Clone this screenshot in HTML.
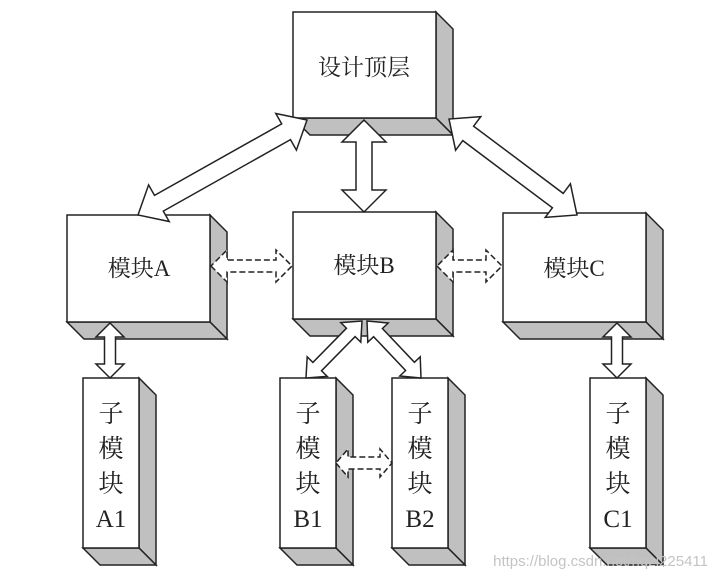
<!DOCTYPE html>
<html><head><meta charset="utf-8"><style>
html,body{margin:0;padding:0;background:#fff;}
svg{display:block;}
text{font-family:"Liberation Serif","Noto Serif CJK SC",serif;fill:#222;}
text.wm{font-family:"Liberation Sans",sans-serif;fill:#c4c4c4;}
</style></head><body>
<svg id="s" width="719" height="578" viewBox="0 0 719 578" xmlns="http://www.w3.org/2000/svg">
<g id="boxes" stroke="#222" stroke-width="1.5" stroke-linejoin="miter"></g>
<g id="arrows" fill="#fff" stroke="#222" stroke-width="1.5" stroke-linejoin="miter"></g>
<g font-size="23">
<text x="364" y="75" text-anchor="middle">设计顶层</text>
<text x="139" y="276" text-anchor="middle">模块A</text>
<text x="364" y="273" text-anchor="middle">模块B</text>
<text x="574" y="276" text-anchor="middle">模块C</text>
</g>
<g font-size="25" text-anchor="middle" id="sub"></g>
<text class="wm" x="708" y="566" font-size="15" text-anchor="end">https://blog.csdn.net/hqzl225411</text>
</svg>
<script>
var NS="http://www.w3.org/2000/svg";
function el(p,t,a){var e=document.createElementNS(NS,t);for(var k in a)e.setAttribute(k,a[k]);p.appendChild(e);return e;}
var B=document.getElementById('boxes'),A=document.getElementById('arrows'),S=document.getElementById('sub');
function box(x1,y1,x2,y2,d){
 el(B,'polygon',{points:[x2,y1,x2+d,y1+d,x2+d,y2+d,x2,y2].join(' '),fill:'#c0c0c0'});
 el(B,'polygon',{points:[x1,y2,x2,y2,x2+d,y2+d,x1+d,y2+d].join(' '),fill:'#c0c0c0'});
 el(B,'rect',{x:x1,y:y1,width:x2-x1,height:y2-y1,fill:'#fff'});
}
box(293,12,436,118,17);
box(67,215,210,322,17);
box(293,212,436,319,17);
box(503,213,646,322,17);
[[83,'A1'],[280,'B1'],[392,'B2'],[590,'C1']].forEach(function(s){
 box(s[0],378,s[0]+56,548,17);
 var cx=s[0]+28;
 ['子','模','块',s[1]].forEach(function(c,i){var t=el(S,'text',{x:cx,y:422+i*35});t.textContent=c;});
});
function arrow(x1,y1,x2,y2,w,hw,hl,dash){
 var dx=x2-x1,dy=y2-y1,L=Math.hypot(dx,dy),ux=dx/L,uy=dy/L,nx=-uy,ny=ux;
 function P(t,o){return [(x1+ux*t+nx*o).toFixed(1),(y1+uy*t+ny*o).toFixed(1)].join(',');}
 var pts=[P(0,0),P(hl,hw/2),P(hl,w/2),P(L-hl,w/2),P(L-hl,hw/2),P(L,0),P(L-hl,-hw/2),P(L-hl,-w/2),P(hl,-w/2),P(hl,-hw/2)];
 var a={points:pts.join(' ')};
 if(dash)a['stroke-dasharray']='6,3';
 el(A,'polygon',a);
}
arrow(307,120,138,215,18,42,24);
arrow(364,120,364,212,16,44,22);
arrow(449,119,577,215,18,42,24);
arrow(211,266,292,266,12,32,16,true);
arrow(437,266,502,266,12,32,16,true);
arrow(336,463,392,463,12,28,12,true);
arrow(110,323,110,378,11,28,14);
arrow(617,323,617,378,11,28,14);
arrow(362,321,306,378,12,28,16);
arrow(367,321,421,378,12,28,16);
</script>
</body></html>
